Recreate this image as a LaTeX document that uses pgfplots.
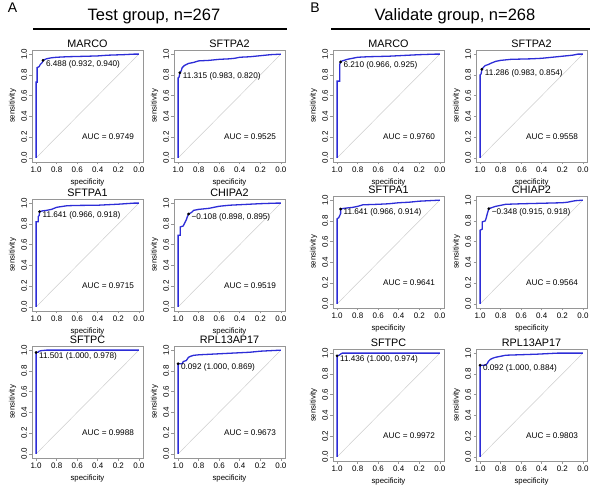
\documentclass[border=0pt]{standalone}
\usepackage{fontspec}
\setmainfont{Liberation Sans}
\usepackage{pgfplots}
\pgfplotsset{compat=1.18}
\definecolor{roc}{RGB}{45,45,215}
\definecolor{boxgray}{RGB}{150,150,150}
\definecolor{diaggray}{RGB}{205,205,205}
\newcommand\tk{\fontsize{8}{9.5}\selectfont}
\newcommand\lb{\fontsize{7.8}{9.5}\selectfont}
\newcommand\an{\fontsize{8.2}{10}\selectfont}
\pgfplotsset{rocax/.style={
  scale only axis, width=111pt, height=112pt, anchor=north west,
  x dir=reverse, xmin=-0.04, xmax=1.04, ymin=-0.04, ymax=1.04,
  xtick={0,0.2,0.4,0.6,0.8,1}, ytick={0,0.2,0.4,0.6,0.8,1},
  xticklabels={0.0,0.2,0.4,0.6,0.8,1.0}, yticklabels={0.0,0.2,0.4,0.6,0.8,1.0},
  xtick pos=left, ytick pos=left, tick align=outside, major tick length=2.5pt,
  axis line style={boxgray, line width=0.6pt}, tick style={boxgray, line width=0.6pt},
  tick label style={font=\tk, black},
  xticklabel style={inner sep=1.8pt},
  yticklabel style={rotate=90, anchor=south, inner sep=2.3pt},
  xlabel={specificity}, ylabel={sensitivity},
  xlabel style={font=\lb, at={(axis description cs:0.5,-0.18)}, anchor=center},
  ylabel style={font=\lb, at={(axis description cs:-0.175,0.5)}, anchor=center},
  title style={font=\fontsize{10.8}{12}\selectfont, at={(axis description cs:0.5,1)}, anchor=south, yshift=-6pt, inner sep=2pt},
  clip=false,
}}
\newcommand\diag{\addplot[diaggray, line width=0.5pt] coordinates {(1,0) (0,1)};}
\begin{document}
\begin{tikzpicture}
\useasboundingbox (0pt,0pt) rectangle (598pt,-489pt);
% panel headers
\node[font=\fontsize{14}{16}\selectfont, anchor=base] at (12.5pt,-13pt) {A};
\node[font=\fontsize{16.5}{18}\selectfont, anchor=base] at (154pt,-20.5pt) {Test group, n=267};
\draw[line width=1.2pt] (33pt,-29pt) -- (287pt,-29pt);
\node[font=\fontsize{14}{16}\selectfont, anchor=base] at (315pt,-13pt) {B};
\node[font=\fontsize{16.5}{18}\selectfont, anchor=base] at (455pt,-20.5pt) {Validate group, n=268};
\draw[line width=1.2pt] (331pt,-29pt) -- (590pt,-29pt);

% ---------- A: MARCO
\begin{axis}[rocax, at={(32pt,-50pt)}, title={MARCO}]
\diag
\addplot[roc, line width=1.3pt] coordinates {(1,0)(1,0.73)(0.99,0.73)(0.99,0.87)(0.97,0.88)(0.96,0.9)(0.94,0.92)(0.932,0.94)(0.9,0.955)(0.85,0.965)(0.8,0.97)(0.7,0.975)(0.5,0.98)(0.4,0.983)(0.3,0.99)(0.15,0.995)(0.05,1.0)(0,1.0)};
\addplot[only marks, mark=*, mark size=1.2pt, black] coordinates {(0.932,0.940)};
\node[font=\an, anchor=west, inner sep=1pt] at (axis cs:0.915,0.905) {6.488 (0.932, 0.940)};
\node[font=\an] at (axis cs:0.3,0.2) {AUC = 0.9749};
\end{axis}
% ---------- A: SFTPA2
\begin{axis}[rocax, at={(174pt,-50pt)}, title={SFTPA2}]
\diag
\addplot[roc, line width=1.3pt] coordinates {(1,0)(1,0.77)(0.99,0.78)(0.983,0.82)(0.97,0.84)(0.96,0.87)(0.94,0.89)(0.9,0.91)(0.85,0.92)(0.8,0.935)(0.7,0.94)(0.6,0.95)(0.5,0.955)(0.45,0.96)(0.4,0.97)(0.3,0.975)(0.2,0.985)(0.1,0.995)(0,1)};
\addplot[only marks, mark=*, mark size=1.2pt, black] coordinates {(0.983,0.820)};
\node[font=\an, anchor=west, inner sep=1pt] at (axis cs:0.966,0.785) {11.315 (0.983, 0.820)};
\node[font=\an] at (axis cs:0.3,0.2) {AUC = 0.9525};
\end{axis}
% ---------- A: SFTPA1
\begin{axis}[rocax, at={(32pt,-199pt)}, title={SFTPA1}]
\diag
\addplot[roc, line width=1.3pt] coordinates {(1,0)(1,0.82)(0.98,0.82)(0.98,0.87)(0.97,0.88)(0.966,0.918)(0.94,0.925)(0.9,0.93)(0.85,0.94)(0.8,0.96)(0.7,0.975)(0.6,0.978)(0.4,0.98)(0.2,0.99)(0.05,1)(0,1)};
\addplot[only marks, mark=*, mark size=1.2pt, black] coordinates {(0.966,0.918)};
\node[font=\an, anchor=west, inner sep=1pt] at (axis cs:0.949,0.883) {11.641 (0.966, 0.918)};
\node[font=\an] at (axis cs:0.3,0.2) {AUC = 0.9715};
\end{axis}
% ---------- A: CHIPA2
\begin{axis}[rocax, at={(174pt,-199pt)}, title={CHIPA2}]
\diag
\addplot[roc, line width=1.3pt] coordinates {(1,0)(1,0.69)(0.98,0.69)(0.98,0.77)(0.95,0.78)(0.94,0.8)(0.92,0.84)(0.91,0.87)(0.898,0.895)(0.87,0.91)(0.85,0.93)(0.8,0.94)(0.75,0.945)(0.7,0.95)(0.6,0.97)(0.5,0.98)(0.4,0.985)(0.3,0.99)(0.2,0.995)(0.05,1)(0,1)};
\addplot[only marks, mark=*, mark size=1.2pt, black] coordinates {(0.898,0.895)};
\node[font=\an, anchor=west, inner sep=1pt] at (axis cs:0.881,0.86) {−0.108 (0.898, 0.895)};
\node[font=\an] at (axis cs:0.3,0.2) {AUC = 0.9519};
\end{axis}
% ---------- A: SFTPC
\begin{axis}[rocax, at={(32pt,-346pt)}, title={SFTPC}]
\diag
\addplot[roc, line width=1.3pt] coordinates {(1,0)(1,0.978)(0.98,0.98)(0.97,0.99)(0.95,0.995)(0.9,1)(0,1)};
\addplot[only marks, mark=*, mark size=1.2pt, black] coordinates {(1.000,0.978)};
\node[font=\an, anchor=west, inner sep=1pt] at (axis cs:0.983,0.943) {11.501 (1.000, 0.978)};
\node[font=\an] at (axis cs:0.3,0.2) {AUC = 0.9988};
\end{axis}
% ---------- A: RPL13AP17
\begin{axis}[rocax, at={(174pt,-346pt)}, title={RPL13AP17}]
\diag
\addplot[roc, line width=1.3pt] coordinates {(1,0)(1,0.869)(0.96,0.869)(0.95,0.89)(0.92,0.9)(0.9,0.93)(0.88,0.94)(0.85,0.95)(0.8,0.955)(0.7,0.96)(0.6,0.965)(0.5,0.97)(0.4,0.975)(0.3,0.98)(0.2,0.99)(0.1,0.995)(0,1)};
\addplot[only marks, mark=*, mark size=1.2pt, black] coordinates {(1.000,0.869)};
\node[font=\an, anchor=west, inner sep=1pt] at (axis cs:0.983,0.834) {0.092 (1.000, 0.869)};
\node[font=\an] at (axis cs:0.3,0.2) {AUC = 0.9673};
\end{axis}

% ---------- B: MARCO
\begin{axis}[rocax, at={(333pt,-50pt)}, title={MARCO}]
\diag
\addplot[roc, line width=1.3pt] coordinates {(1,0)(1,0.74)(0.975,0.74)(0.975,0.9)(0.966,0.925)(0.95,0.935)(0.9,0.95)(0.85,0.96)(0.8,0.97)(0.7,0.975)(0.5,0.98)(0.3,0.99)(0.2,0.995)(0.05,1)(0,1)};
\addplot[only marks, mark=*, mark size=1.2pt, black] coordinates {(0.966,0.925)};
\node[font=\an, anchor=west, inner sep=1pt] at (axis cs:0.949,0.89) {6.210 (0.966, 0.925)};
\node[font=\an] at (axis cs:0.3,0.2) {AUC = 0.9760};
\end{axis}
% ---------- B: SFTPA2
\begin{axis}[rocax, at={(476pt,-50pt)}, title={SFTPA2}]
\diag
\addplot[roc, line width=1.3pt] coordinates {(1,0)(1,0.8)(0.99,0.81)(0.983,0.854)(0.97,0.87)(0.95,0.89)(0.92,0.9)(0.9,0.91)(0.85,0.93)(0.8,0.94)(0.7,0.95)(0.5,0.955)(0.4,0.96)(0.3,0.97)(0.2,0.98)(0.1,0.99)(0.05,1)(0,1)};
\addplot[only marks, mark=*, mark size=1.2pt, black] coordinates {(0.983,0.854)};
\node[font=\an, anchor=west, inner sep=1pt] at (axis cs:0.966,0.819) {11.286 (0.983, 0.854)};
\node[font=\an] at (axis cs:0.3,0.2) {AUC = 0.9558};
\end{axis}
% ---------- B: SFTPA1
\begin{axis}[rocax, at={(333pt,-196pt)}, title={SFTPA1}]
\diag
\addplot[roc, line width=1.3pt] coordinates {(1,0)(1,0.82)(0.985,0.83)(0.975,0.85)(0.966,0.87)(0.966,0.914)(0.94,0.92)(0.9,0.925)(0.85,0.93)(0.8,0.94)(0.75,0.955)(0.6,0.96)(0.5,0.965)(0.4,0.975)(0.3,0.98)(0.2,0.99)(0.1,0.995)(0,1)};
\addplot[only marks, mark=*, mark size=1.2pt, black] coordinates {(0.966,0.914)};
\node[font=\an, anchor=west, inner sep=1pt] at (axis cs:0.949,0.879) {11.641 (0.966, 0.914)};
\node[font=\an] at (axis cs:0.3,0.2) {AUC = 0.9641};
\end{axis}
% ---------- B: CHIAP2
\begin{axis}[rocax, at={(476pt,-196pt)}, title={CHIAP2}]
\diag
\addplot[roc, line width=1.3pt] coordinates {(1,0)(1,0.71)(0.98,0.72)(0.98,0.79)(0.95,0.8)(0.94,0.83)(0.93,0.87)(0.915,0.918)(0.88,0.93)(0.85,0.94)(0.8,0.95)(0.75,0.96)(0.6,0.965)(0.4,0.97)(0.2,0.975)(0.15,0.98)(0.1,0.99)(0.07,0.995)(0,1)};
\addplot[only marks, mark=*, mark size=1.2pt, black] coordinates {(0.915,0.918)};
\node[font=\an, anchor=west, inner sep=1pt] at (axis cs:0.898,0.883) {−0.348 (0.915, 0.918)};
\node[font=\an] at (axis cs:0.3,0.2) {AUC = 0.9564};
\end{axis}
% ---------- B: SFTPC
\begin{axis}[rocax, at={(333pt,-349pt)}, title={SFTPC}]
\diag
\addplot[roc, line width=1.3pt] coordinates {(1,0)(1,0.974)(0.98,0.98)(0.96,0.995)(0.95,1)(0,1)};
\addplot[only marks, mark=*, mark size=1.2pt, black] coordinates {(1.000,0.974)};
\node[font=\an, anchor=west, inner sep=1pt] at (axis cs:0.983,0.939) {11.436 (1.000, 0.974)};
\node[font=\an] at (axis cs:0.3,0.2) {AUC = 0.9972};
\end{axis}
% ---------- B: RPL13AP17
\begin{axis}[rocax, at={(476pt,-349pt)}, title={RPL13AP17}]
\diag
\addplot[roc, line width=1.3pt] coordinates {(1,0)(1,0.884)(0.95,0.884)(0.93,0.9)(0.92,0.92)(0.9,0.94)(0.88,0.95)(0.85,0.96)(0.8,0.97)(0.75,0.98)(0.6,0.985)(0.45,0.99)(0.35,0.995)(0.25,1)(0,1)};
\addplot[only marks, mark=*, mark size=1.2pt, black] coordinates {(1.000,0.884)};
\node[font=\an, anchor=west, inner sep=1pt] at (axis cs:0.983,0.849) {0.092 (1.000, 0.884)};
\node[font=\an] at (axis cs:0.3,0.2) {AUC = 0.9803};
\end{axis}
\end{tikzpicture}
\end{document}
